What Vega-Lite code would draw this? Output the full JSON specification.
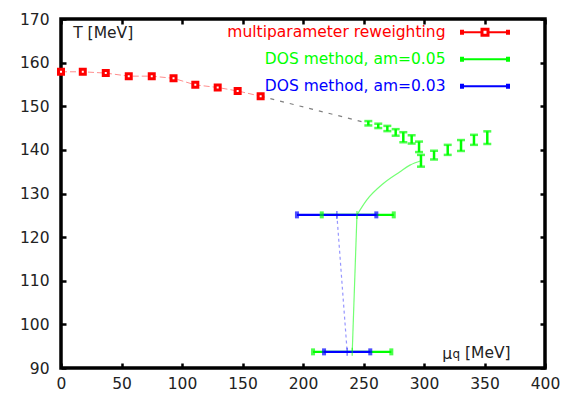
{
  "$schema": "https://vega.github.io/schema/vega-lite/v6.json",
  "width": 484,
  "height": 349,
  "autosize": {"type": "none"},
  "padding": {"left": 61, "top": 19, "right": 19, "bottom": 27},
  "background": "white",
  "datasets": {
    "rw": [
      {"mu": 0, "T": 157.9}, {"mu": 18, "T": 157.9}, {"mu": 37, "T": 157.6},
      {"mu": 56, "T": 156.9}, {"mu": 75, "T": 156.9}, {"mu": 93, "T": 156.4},
      {"mu": 111, "T": 154.9}, {"mu": 129.5, "T": 154.3}, {"mu": 146, "T": 153.5},
      {"mu": 165, "T": 152.3}
    ],
    "dos": [
      {"mu": 254.0, "T": 146.1, "lo": 145.6, "hi": 146.6},
      {"mu": 262.2, "T": 145.5, "lo": 145.0, "hi": 146.0},
      {"mu": 269.7, "T": 144.9, "lo": 144.3, "hi": 145.5},
      {"mu": 276.6, "T": 144.0, "lo": 143.25, "hi": 144.75},
      {"mu": 282.9, "T": 142.9, "lo": 141.75, "hi": 144.05},
      {"mu": 289.8, "T": 142.4, "lo": 141.45, "hi": 143.35},
      {"mu": 295.9, "T": 140.7, "lo": 139.5, "hi": 141.9},
      {"mu": 297.5, "T": 137.5, "lo": 136.15, "hi": 138.85},
      {"mu": 308.3, "T": 138.8, "lo": 137.8, "hi": 139.8},
      {"mu": 319.6, "T": 140.0, "lo": 138.85, "hi": 141.15},
      {"mu": 330.6, "T": 141.0, "lo": 139.75, "hi": 142.25},
      {"mu": 341.3, "T": 142.3, "lo": 141.15, "hi": 143.45},
      {"mu": 352.3, "T": 142.8, "lo": 141.35, "hi": 144.25}
    ],
    "xbar": [
      {"series": "DOS method, am=0.05", "T": 125.1, "mu": 244.6, "lo": 215.5, "hi": 275.0},
      {"series": "DOS method, am=0.05", "T": 93.7, "mu": 240.7, "lo": 208.3, "hi": 273.0},
      {"series": "DOS method, am=0.03", "T": 125.1, "mu": 228.0, "lo": 195.0, "hi": 260.6},
      {"series": "DOS method, am=0.03", "T": 93.7, "mu": 236.5, "lo": 217.4, "hi": 255.6}
    ],
    "links": [
      {"link": "extrapolation", "mu": 165, "T": 152.3, "mu2": 254.0, "T2": 146.1},
      {"link": "am=0.05", "mu": 244.6, "T": 125.1, "mu2": 240.7, "T2": 93.7},
      {"link": "am=0.03", "mu": 228.0, "T": 125.1, "mu2": 236.5, "T2": 93.7}
    ],
    "arc": [
      {"mu": 244.6, "T": 125.1}, {"mu": 252.6, "T": 128.5}, {"mu": 266.4, "T": 132.3},
      {"mu": 280.2, "T": 135.0}, {"mu": 288.4, "T": 136.5}, {"mu": 297.5, "T": 137.5}
    ]
  },
  "config": {
    "font": "DejaVu Sans",
    "view": {"stroke": "black", "strokeWidth": 3.5},
    "axis": {
      "grid": false,
      "domain": false,
      "labelFlush": false,
      "tickColor": "black",
      "tickWidth": 2.5,
      "tickSize": -5,
      "labelFont": "DejaVu Sans",
      "labelFontSize": 15.5,
      "labelColor": "#222",
      "titleFont": "DejaVu Sans",
      "titleFontSize": 15.5,
      "titleFontWeight": "normal",
      "titleColor": "#222"
    },
    "axisX": {"labelPadding": 13},
    "axisY": {"labelPadding": 17},
    "legend": {
      "orient": "none",
      "legendX": 380,
      "legendY": 0.8,
      "padding": 0,
      "rowPadding": 6,
      "symbolSize": 625,
      "symbolStrokeWidth": 0,
      "symbolOffset": 31.5,
      "labelOffset": -52,
      "labelAlign": "right",
      "labelBaseline": "middle",
      "labelLimit": 0,
      "labelFont": "DejaVu Sans",
      "labelFontSize": 15.5
    }
  },
  "resolve": {"axis": {"x": "independent", "y": "independent"}},
  "layer": [
    {
      "layer": [
        {
          "data": {"name": "links"},
          "transform": [{"filter": "datum.link === 'extrapolation'"}],
          "mark": {"type": "rule", "stroke": "#808080", "strokeWidth": 1.2, "strokeDash": [4, 6]},
          "encoding": {
            "x": {
              "field": "mu", "type": "quantitative",
              "scale": {"domain": [0, 400], "nice": false, "zero": false},
              "axis": {
                "values": [0, 50, 100, 150, 200, 250, 300, 350, 400],
                "title": "μ",
                "titleX": 380.7, "titleY": -14.7,
                "titleAlign": "left", "titleBaseline": "middle"
              }
            },
            "y": {
              "field": "T", "type": "quantitative",
              "scale": {"domain": [90, 170], "nice": false, "zero": false},
              "axis": {
                "values": [90, 100, 110, 120, 130, 140, 150, 160, 170],
                "title": "T [MeV]",
                "titleAngle": 0,
                "titleX": 11.7, "titleY": 13.5,
                "titleAlign": "left", "titleBaseline": "middle"
              }
            },
            "x2": {"field": "mu2"},
            "y2": {"field": "T2"}
          }
        },
        {
          "data": {"name": "rw"},
          "mark": {"type": "line", "stroke": "#ff0000", "strokeWidth": 1, "strokeDash": [6, 3], "opacity": 0.45},
          "encoding": {
            "x": {"field": "mu", "type": "quantitative"},
            "y": {"field": "T", "type": "quantitative"}
          }
        },
        {
          "data": {"name": "arc"},
          "mark": {"type": "line", "stroke": "#00ff00", "strokeWidth": 1.2, "opacity": 0.55, "interpolate": "monotone"},
          "encoding": {
            "x": {"field": "mu", "type": "quantitative"},
            "y": {"field": "T", "type": "quantitative"}
          }
        },
        {
          "data": {"name": "links"},
          "transform": [{"filter": "datum.link === 'am=0.05'"}],
          "mark": {"type": "rule", "stroke": "#00ff00", "strokeWidth": 1.2, "opacity": 0.55},
          "encoding": {
            "x": {"field": "mu", "type": "quantitative"},
            "y": {"field": "T", "type": "quantitative"},
            "x2": {"field": "mu2"},
            "y2": {"field": "T2"}
          }
        },
        {
          "data": {"name": "links"},
          "transform": [{"filter": "datum.link === 'am=0.03'"}],
          "mark": {"type": "rule", "stroke": "#4040ff", "strokeWidth": 1.2, "opacity": 0.55, "strokeDash": [3, 3]},
          "encoding": {
            "x": {"field": "mu", "type": "quantitative"},
            "y": {"field": "T", "type": "quantitative"},
            "x2": {"field": "mu2"},
            "y2": {"field": "T2"}
          }
        },
        {
          "data": {"name": "xbar"},
          "mark": {"type": "rule", "strokeWidth": 2.2},
          "encoding": {
            "x": {"field": "lo", "type": "quantitative"},
            "x2": {"field": "hi"},
            "y": {"field": "T", "type": "quantitative"},
            "color": {
              "field": "series", "type": "nominal",
              "scale": {
                "domain": ["multiparameter reweighting", "DOS method, am=0.05", "DOS method, am=0.03"],
                "range": ["#ff0000", "#00ff00", "#0000ff"]
              },
              "legend": {
                "title": null,
                "encode": {
                  "symbols": {
                    "update": {
                      "shape": [
                        {"test": "datum.value === 'multiparameter reweighting'", "value": "M-2,-0.08H-0.36V0.08H-2Z M0.36,-0.08H2V0.08H0.36Z M-2,-0.2H-1.68V0.2H-2Z M1.68,-0.2H2V0.2H1.68Z M-0.36,-0.36H0.36V0.36H-0.36Z M-0.12,-0.12V0.12H0.12V-0.12Z"},
                        {"value": "M-2,-0.08H2V0.08H-2Z M-2,-0.2H-1.68V0.2H-2Z M1.68,-0.2H2V0.2H1.68Z"}
                      ],
                      "fill": {"scale": "color", "field": "value"},
                      "stroke": {"value": "transparent"},
                      "strokeWidth": {"value": 0},
                      "opacity": {"value": 1}
                    }
                  },
                  "labels": {
                    "update": {"fill": {"scale": "color", "field": "value"}}
                  }
                }
              }
            }
          }
        },
        {
          "data": {"name": "xbar"},
          "mark": {"type": "tick", "orient": "vertical", "size": 7, "thickness": 4},
          "encoding": {
            "x": {"field": "lo", "type": "quantitative"},
            "y": {"field": "T", "type": "quantitative"},
            "color": {"field": "series", "type": "nominal"}
          }
        },
        {
          "data": {"name": "xbar"},
          "mark": {"type": "tick", "orient": "vertical", "size": 7, "thickness": 4},
          "encoding": {
            "x": {"field": "hi", "type": "quantitative"},
            "y": {"field": "T", "type": "quantitative"},
            "color": {"field": "series", "type": "nominal"}
          }
        },
        {
          "data": {"name": "xbar"},
          "mark": {"type": "tick", "orient": "vertical", "size": 8, "thickness": 1.5, "opacity": 0.5},
          "encoding": {
            "x": {"field": "mu", "type": "quantitative"},
            "y": {"field": "T", "type": "quantitative"},
            "color": {"field": "series", "type": "nominal"}
          }
        },
        {
          "data": {"name": "dos"},
          "mark": {"type": "rule", "strokeWidth": 2.5},
          "encoding": {
            "x": {"field": "mu", "type": "quantitative"},
            "y": {"field": "lo", "type": "quantitative"},
            "y2": {"field": "hi"},
            "color": {"datum": "DOS method, am=0.05"}
          }
        },
        {
          "data": {"name": "dos"},
          "mark": {"type": "tick", "orient": "horizontal", "size": 8, "thickness": 2.5},
          "encoding": {
            "x": {"field": "mu", "type": "quantitative"},
            "y": {"field": "lo", "type": "quantitative"},
            "color": {"datum": "DOS method, am=0.05"}
          }
        },
        {
          "data": {"name": "dos"},
          "mark": {"type": "tick", "orient": "horizontal", "size": 8, "thickness": 2.5},
          "encoding": {
            "x": {"field": "mu", "type": "quantitative"},
            "y": {"field": "hi", "type": "quantitative"},
            "color": {"datum": "DOS method, am=0.05"}
          }
        },
        {
          "data": {"name": "rw"},
          "mark": {"type": "point", "shape": "square", "filled": false, "fill": "white", "strokeWidth": 3, "size": 25, "opacity": 1},
          "encoding": {
            "x": {"field": "mu", "type": "quantitative"},
            "y": {"field": "T", "type": "quantitative"},
            "color": {"datum": "multiparameter reweighting"}
          }
        },
        {
          "data": {"values": [{"sub": "q"}]},
          "mark": {"type": "text", "align": "left", "baseline": "alphabetic", "fontSize": 12, "fill": "#222"},
          "encoding": {
            "x": {"datum": 323.6, "type": "quantitative"},
            "y": {"datum": 92.22, "type": "quantitative"},
            "text": {"field": "sub"}
          }
        },
        {
          "data": {"values": [{"unit": "[MeV]"}]},
          "mark": {"type": "text", "align": "left", "baseline": "middle", "fontSize": 15.5, "fill": "#222"},
          "encoding": {
            "x": {"datum": 333.9, "type": "quantitative"},
            "y": {"datum": 93.37, "type": "quantitative"},
            "text": {"field": "unit"}
          }
        }
      ]
    },
    {
      "data": {"name": "rw"},
      "mark": {"type": "point", "opacity": 0},
      "encoding": {
        "x": {
          "field": "mu", "type": "quantitative",
          "axis": {"orient": "top", "labels": false, "title": null, "values": [0, 50, 100, 150, 200, 250, 300, 350, 400]}
        },
        "y": {
          "field": "T", "type": "quantitative",
          "axis": {"orient": "right", "labels": false, "title": null, "values": [90, 100, 110, 120, 130, 140, 150, 160, 170]}
        }
      }
    }
  ]
}
